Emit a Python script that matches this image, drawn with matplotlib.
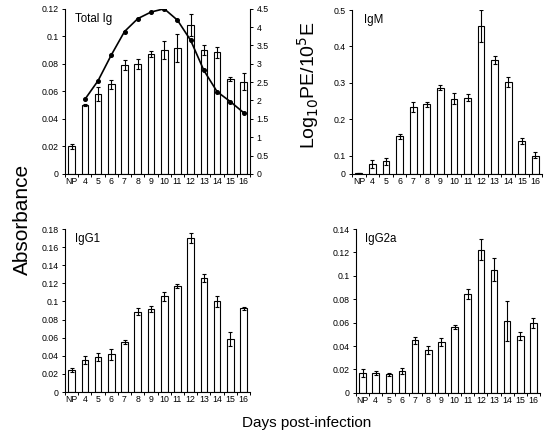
import numpy as np
import matplotlib
matplotlib.use('agg')
import matplotlib.pyplot as plt
from matplotlib.ticker import FuncFormatter

plt.rcParams['font.family'] = ['Liberation Sans', 'DejaVu Sans']

days = ["NP", "4", "5", "6", "7", "8", "9", "10", "11", "12", "13", "14", "15", "16"]

# Total Ig absorbance + log10 PE line (right axis)
total_ig = [0.020, 0.050, 0.058, 0.065, 0.079, 0.080, 0.087, 0.090, 0.0915, 0.108, 0.090, 0.0885, 0.069, 0.067]
total_err = [0.002, 0.001, 0.005, 0.003, 0.0035, 0.0035, 0.002, 0.0065, 0.010, 0.008, 0.0035, 0.004, 0.0013, 0.006]
log_pe = [2.03, 2.54, 3.24, 3.88, 4.23, 4.41, 4.5, 4.19, 3.64, 2.82, 2.24, 1.97, 1.67]  # days 4..16

igm = [0.004, 0.055, 0.069, 0.153, 0.234, 0.241, 0.287, 0.257, 0.259, 0.456, 0.363, 0.303, 0.141, 0.099]
igm_err = [0.001, 0.02, 0.02, 0.007, 0.013, 0.007, 0.007, 0.014, 0.01, 0.044, 0.011, 0.014, 0.008, 0.012]

igg1 = [0.0243, 0.0353, 0.0386, 0.0419, 0.0551, 0.0886, 0.0915, 0.1059, 0.1169, 0.1702, 0.126, 0.100, 0.0585, 0.0923]
igg1_err = [0.002, 0.0045, 0.004, 0.006, 0.002, 0.004, 0.003, 0.005, 0.002, 0.006, 0.004, 0.006, 0.0075, 0.0015]

igg2a = [0.0171, 0.0171, 0.0159, 0.0188, 0.045, 0.0367, 0.0432, 0.0563, 0.0845, 0.1223, 0.1053, 0.0615, 0.0486, 0.0597]
igg2a_err = [0.0035, 0.0015, 0.0013, 0.0025, 0.003, 0.0037, 0.0035, 0.0015, 0.004, 0.009, 0.010, 0.017, 0.0035, 0.004]

fs = 6.3
fig = plt.figure(figsize=(5.51, 4.38), dpi=100)


def style_axes(ax, title, tx):
    x = np.arange(len(days))
    ax.set_xlim(-0.5, len(days) - 0.5)
    ax.set_xticks(x)
    ax.set_xticklabels(days)
    ax.set_xticks(np.arange(len(days) + 1) - 0.5, minor=True)
    ax.tick_params(axis='x', which='major', length=0, labelsize=fs, pad=2)
    ax.tick_params(axis='x', which='minor', length=2.5, width=0.7, direction='out')
    ax.yaxis.set_major_formatter(FuncFormatter(lambda v, p: '%g' % round(v, 4)))
    ax.tick_params(axis='y', length=2.5, width=0.7, labelsize=fs, pad=2)
    for s in ['top', 'right']:
        ax.spines[s].set_visible(False)
    for s in ['left', 'bottom']:
        ax.spines[s].set_linewidth(0.8)
    ax.text(tx, 0.975, title, transform=ax.transAxes, fontsize=8.3, va='top', ha='left')


def draw_bars(ax, vals, errs):
    x = np.arange(len(days))
    ax.bar(x, vals, width=0.5, color='white', edgecolor='black', linewidth=0.8, zorder=2)
    ax.errorbar(x, vals, yerr=errs, fmt='none', ecolor='black', elinewidth=0.8,
                capsize=1.6, capthick=0.8, zorder=3)


def bar_panel(rect, vals, errs, title, ymax, step, tx):
    ax = fig.add_axes(rect)
    draw_bars(ax, vals, errs)
    ax.set_ylim(0, ymax)
    ax.set_yticks(np.arange(0, ymax + step / 2, step))
    style_axes(ax, title, tx)
    return ax


ax1 = bar_panel([0.118, 0.603, 0.336, 0.377], total_ig, total_err, "Total Ig", 0.12, 0.02, 0.055)
ax1b = ax1.twinx()
ax1b.plot(np.arange(1, len(days)), log_pe, color='black', lw=1.2, marker='o', ms=2.6, zorder=4)
ax1b.set_ylim(0, 4.5)
ax1b.set_yticks(np.arange(0, 4.51, 0.5))
ax1b.yaxis.set_major_formatter(FuncFormatter(lambda v, p: '%g' % v))
ax1b.tick_params(axis='y', length=2.5, width=0.7, labelsize=fs, pad=2)
ax1b.spines['top'].set_visible(False)
ax1b.spines['left'].set_visible(False)
ax1b.spines['bottom'].set_visible(False)
ax1b.spines['right'].set_linewidth(0.8)


# IgM panel: lower segment 0-0.1 compressed by half, as in the original figure
def fwd(y):
    y = np.asarray(y, dtype=float)
    return np.where(y < 0.1, y * 0.5, y - 0.05)


def inv(y):
    y = np.asarray(y, dtype=float)
    return np.where(y < 0.05, y * 2, y + 0.05)


ax2 = fig.add_axes([0.639, 0.603, 0.345, 0.374])
ax2.set_yscale('function', functions=(fwd, inv))
draw_bars(ax2, igm, igm_err)
ax2.set_ylim(0, 0.5)
ax2.set_yticks([0, 0.1, 0.2, 0.3, 0.4, 0.5])
ax2.set_yticks([], minor=True)
style_axes(ax2, "IgM", 0.063)

bar_panel([0.118, 0.105, 0.336, 0.372], igg1, igg1_err, "IgG1", 0.18, 0.02, 0.055)
bar_panel([0.646, 0.103, 0.334, 0.374], igg2a, igg2a_err, "IgG2a", 0.14, 0.02, 0.05)

fig.text(0.04, 0.5, "Absorbance", rotation=90, fontsize=15, ha='center', va='center')
fig.text(0.559, 0.805, r'Log$_{10}$PE/10$^5$E', rotation=90, fontsize=14, ha='center', va='center')
fig.text(0.557, 0.035, "Days post-infection", fontsize=11, ha='center', va='center')

fig.savefig('out.png', dpi=100)
